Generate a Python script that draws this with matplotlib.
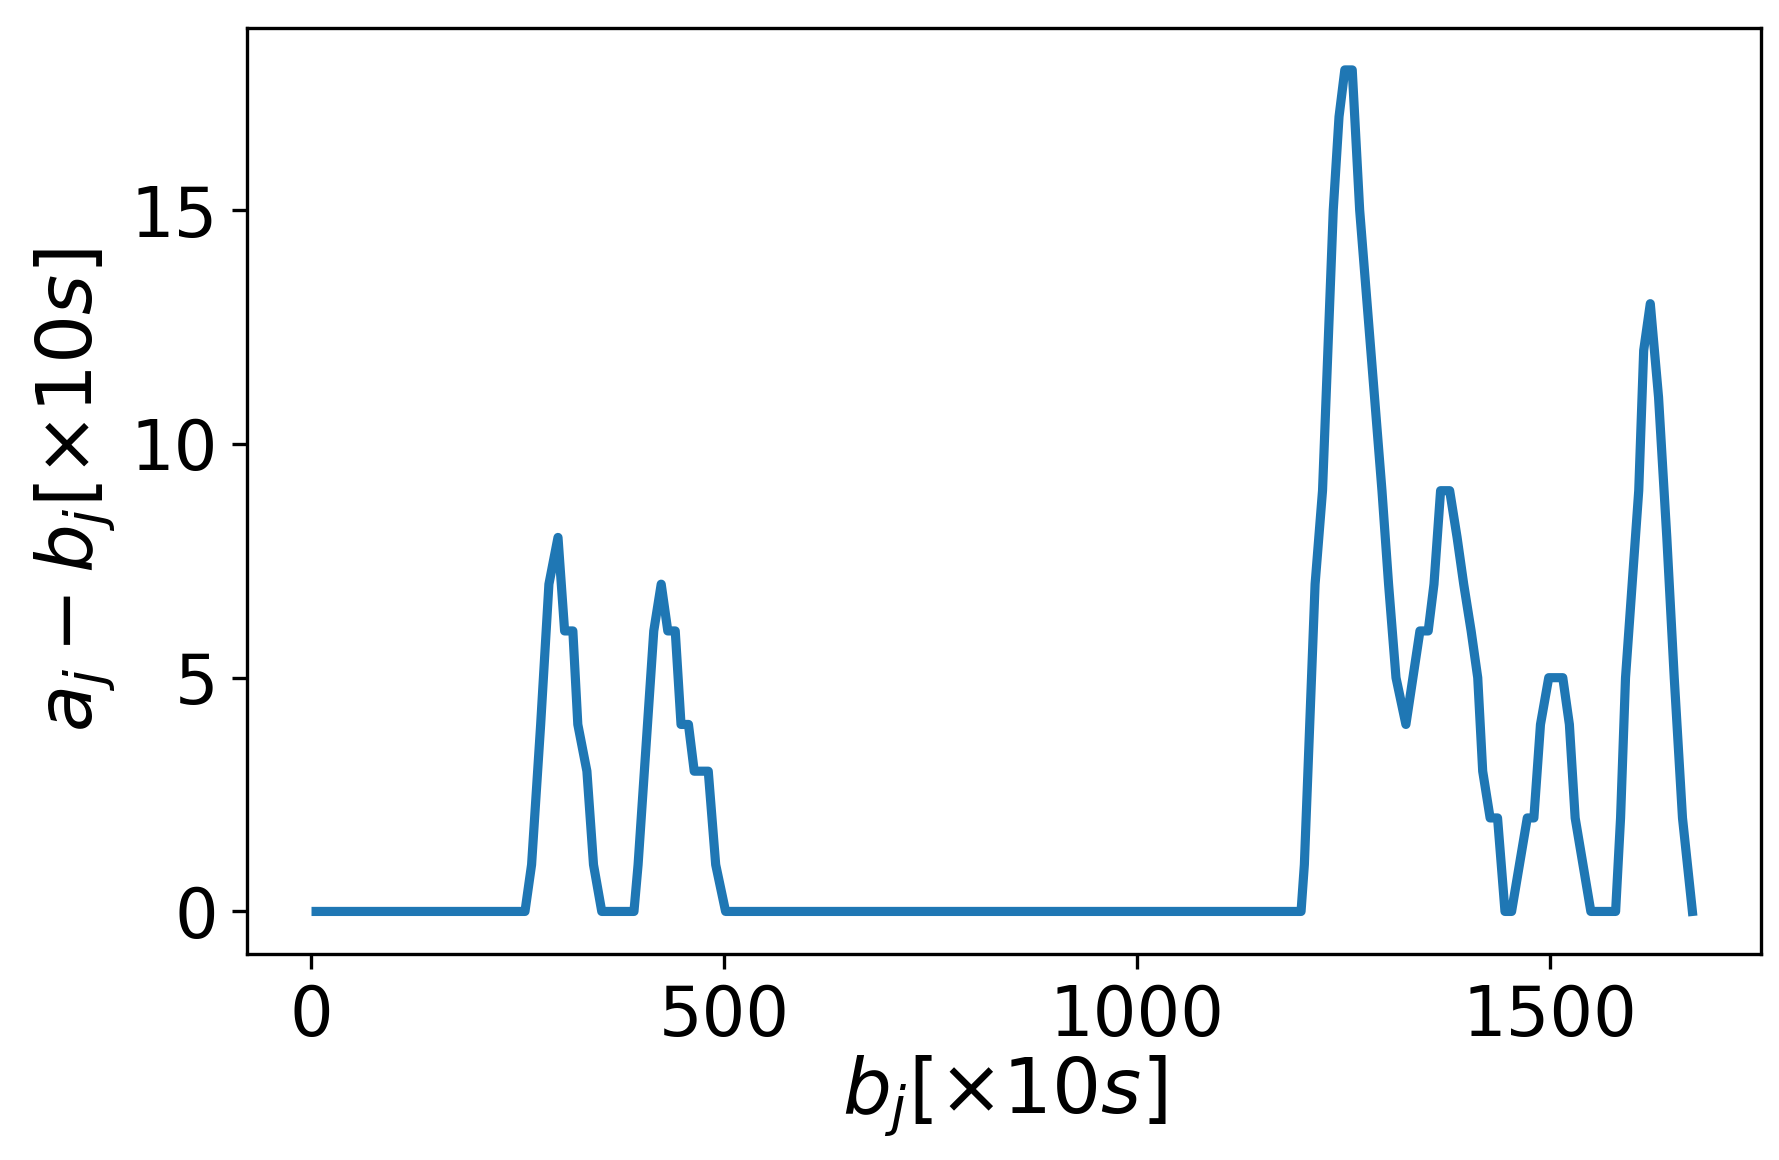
import matplotlib.pyplot as plt

# b_j values (x 10 s) and the gap a_j - b_j
b_j = [
    6, 259, 267, 278, 288, 299, 307, 317, 323, 334, 342, 352,
    391, 396, 415, 424, 432, 441, 448, 457, 464, 481, 490, 502,
    1199, 1203, 1216, 1225, 1238, 1245, 1252, 1261, 1270, 1279, 1288,
    1297, 1305, 1314, 1326, 1343, 1353, 1360, 1368, 1379, 1388, 1396,
    1405, 1413, 1419, 1428, 1437, 1446, 1454, 1473, 1481, 1489, 1499,
    1516, 1524, 1531, 1550, 1580, 1586, 1592, 1600, 1608, 1614, 1622,
    1632, 1642, 1651, 1661, 1673,
]
gap = [
    0, 0, 1, 4, 7, 8, 6, 6, 4, 3, 1, 0,
    0, 1, 6, 7, 6, 6, 4, 4, 3, 3, 1, 0,
    0, 1, 7, 9, 15, 17, 18, 18, 15, 13, 11,
    9, 7, 5, 4, 6, 6, 7, 9, 9, 8, 7,
    6, 5, 3, 2, 2, 0, 0, 2, 2, 4, 5,
    5, 4, 2, 0, 0, 2, 5, 7, 9, 12, 13,
    11, 8, 5, 2, 0,
]

fig = plt.figure(figsize=(1779 / 300, 1160 / 300), dpi=300)
ax = fig.add_axes([0.139, 0.178, 0.851, 0.798])

ax.plot(b_j, gap, color="C0", linewidth=2.2)

ax.set_xticks([0, 500, 1000, 1500])
ax.set_yticks([0, 5, 10, 15])
ax.tick_params(labelsize=16.5)
ax.set_xlabel(r"$b_j[\times 10s]$", fontsize=18.5, labelpad=1)
ax.set_ylabel(r"$a_j - b_j[\times 10s]$", fontsize=18.5, labelpad=3)

fig.savefig("out.png", dpi=300)
